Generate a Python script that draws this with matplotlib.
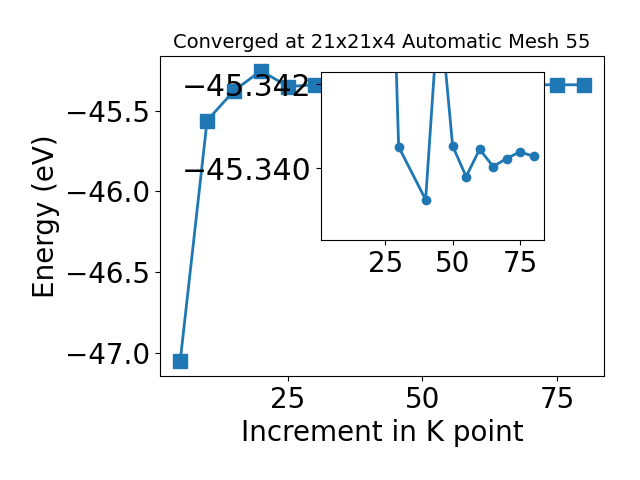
import matplotlib
matplotlib.use("Agg")
import matplotlib.pyplot as plt

# k-point increments and total energies (eV)
kpoints = [5, 10, 15, 20, 25, 30, 40, 45, 50, 55, 60, 65, 70, 75, 80]
energy = [-47.054, -45.562, -45.377, -45.253, -45.3511, -45.34051, -45.33925,
          -45.34400, -45.34053, -45.33980, -45.34045, -45.34004, -45.34023,
          -45.34039, -45.34028]

main_xticks = [25, 50, 75]
main_yticks = [-47.0, -46.5, -46.0, -45.5]
inset_start = 4  # inset shows the converged part, from 25 onward
inset_ylim = (-45.33829, -45.34229)  # inverted on purpose
inset_yticks = [-45.342, -45.340]

fig = plt.figure(figsize=(6.4, 4.8), dpi=100)
ax = fig.add_axes([0.25, 0.217, 0.694, 0.666])
ax.plot(kpoints, energy, marker="s", markersize=10, linewidth=2, color="#1f77b4")
ax.set_xticks(main_xticks)
ax.set_yticks(main_yticks)
ax.tick_params(labelsize=20)
ax.set_xlabel("Increment in K point", fontsize=20)
ax.set_ylabel("Energy (eV)", fontsize=20)
ax.set_title("Converged at 21x21x4 Automatic Mesh 55", fontsize=14)

# zoomed inset on the converged region
ax_in = fig.add_axes([0.5016, 0.5, 0.348, 0.35])
ax_in.plot(kpoints[inset_start:], energy[inset_start:], marker="o", markersize=6,
           linewidth=2, color="#1f77b4")
ax_in.set_xlim(ax.get_xlim())
ax_in.set_ylim(*inset_ylim)
ax_in.set_xticks(main_xticks)
ax_in.set_yticks(inset_yticks)
ax_in.ticklabel_format(axis="y", useOffset=False)
ax_in.tick_params(axis="x", labelsize=20)
ax_in.tick_params(axis="y", labelsize=21.5)

fig.savefig("out.png", dpi=100)
